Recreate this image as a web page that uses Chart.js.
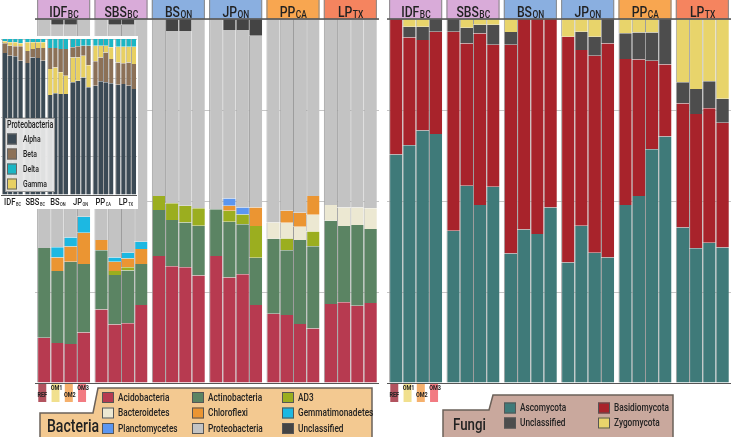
<!DOCTYPE html>
<html>
<head>
<meta charset="utf-8">
<script src="https://cdn.jsdelivr.net/npm/chart.js@4"></script>
<style>
  body { margin: 0; width: 733px; height: 437px; position: relative; overflow: hidden; background: #fff; }
  .box { position: absolute; }
</style>
</head>
<body>
<div class="box" style="left:0;top:0;width:383px;height:437px"><canvas id="bact"></canvas></div>
<div class="box" style="left:383px;top:0;width:350px;height:437px"><canvas id="fungi"></canvas></div>
<div class="box" style="left:0;top:36px;width:138px;height:173px;background:#fff"><canvas id="proteo"></canvas></div>
<script>
const sites = ['IDF', 'SBS', 'BS', 'JP', 'PP', 'LP'];
const siteSubs = ['BC', 'BC', 'ON', 'ON', 'CA', 'TX'];
const treatments = ['REF', 'OM1', 'OM2', 'OM3'];

// bacteria, % of reads, 4 bars per site in order REF, OM1, OM2, OM3
const acidobacteria = [12.4,11.0,10.7,13.9, 20.2,16.1,16.4,21.4, 34.9,32.1,31.8,29.5, 34.9,29.0,29.9,21.4, 19.0,18.7,16.2,15.0, 21.7,22.2,21.2,22.0];
const actinobacteria = [24.7,19.8,22.6,18.8, 16.3,13.6,14.5,11.3, 12.6,12.7,12.3,13.7, 12.8,15.3,13.7,13.0, 20.6,17.8,23.1,22.6, 22.9,20.9,22.2,20.3];
const ad3 = [0,0,0,0, 0,1.1,0.9,0, 3.9,4.6,4.6,4.8, 0,3.0,2.7,8.7, 0,3.2,0,4.0, 0,0,0,0];
const bacteroidetes = [0,0,0,0, 0,0,0,0, 0,0,0,0, 0,0,0,0, 4.5,4.3,3.6,4.6, 4.3,5.1,4.8,5.7];
const chloroflexi = [0,3.7,4.2,8.6, 2.8,2.5,2.4,4.1, 0,0,0,0, 0,1.4,0,5.1, 0,3.3,3.9,5.2, 0,0,0,0];
const gemmatimonadetes = [0,2.8,2.5,4.4, 0,1.2,1.6,2.0, 0,0,0,0, 0,0,0,0, 0,0,0,0, 0,0,0,0];
const planctomycetes = [0,0,0,0, 0,0,0,0, 0,0,0,0, 0,2.0,1.9,0, 0,0,0,0, 0,0,0,0];
const proteobacteria = [62.9,61.1,58.4,54.3, 60.7,63.9,62.6,61.2, 48.6,47.3,48.0,52.0, 52.3,46.3,48.8,47.2, 55.9,52.7,53.2,48.6, 51.1,51.8,51.8,52.0];
const bactUnclassified = [0,1.6,1.6,0, 0,1.6,1.6,0, 0,3.3,3.3,0, 0,3.0,3.0,4.6, 0,0,0,0, 0,0,0,0];

// fungi
const ascomycota = [62.8,65.3,69.4,68.4, 41.8,54.2,48.9,53.9, 35.6,42.2,40.9,48.2, 33.1,43.2,35.8,34.5, 48.9,51.4,64.2,67.7, 42.7,37.0,38.5,37.2];
const basidiomycota = [37.2,29.6,24.8,28.1, 54.7,39.1,47.1,39.0, 57.3,57.8,59.1,51.8, 62.0,48.3,54.1,58.8, 40.1,37.5,24.3,19.8, 34.1,36.9,37.0,34.3];
const fungiUnclassified = [0,3.0,3.7,3.5, 3.5,4.3,2.4,5.5, 3.5,0,0,0, 0,5.0,5.2,6.7, 7.1,7.4,7.8,12.5, 5.8,6.9,7.4,6.6];
const zygomycota = [0,2.1,2.1,0, 0,2.4,1.6,1.6, 3.6,0,0,0, 4.9,3.5,4.9,0, 3.9,3.7,3.7,0, 17.4,19.2,17.1,21.9];

// proteobacteria classes, % of proteobacteria
const alpha = [91.0,89.3,88.9,86.1, 84.6,88.2,87.8,86.1, 64.1,65.2,64.7,64.7, 72.2,73.3,75.4,69.0, 70.1,72.9,72.2,71.6, 70.7,71.2,70.1,67.9];
const beta = [6.2,6.4,6.4,9.2, 7.7,5.4,6.4,8.1, 13.4,12.4,14.9,17.1, 6.5,7.1,6.4,12.6, 15.6,15.3,19.2,15.6, 14.3,13.2,14.9,16.1];
const gamma = [1.3,2.2,2.6,1.9, 5.6,4.3,3.7,3.7, 16.7,16.6,14.0,11.8, 16.0,14.9,13.9,14.1, 10.0,7.5,4.3,7.5, 10.1,10.7,10.1,11.1];
const delta = [1.5,2.1,2.1,2.8, 2.1,2.1,2.1,2.1, 5.8,5.8,6.4,6.4, 5.3,4.7,4.3,4.3, 4.3,4.3,4.3,5.3, 4.9,4.9,4.9,4.9];
// sites where gamma sits below beta in the stack
const gammaUnderBeta = ['BS', 'JP'];

const FONT = 'Roboto, "Liberation Sans", sans-serif';
const NARROW = 0.72;   // squeeze Roboto toward a condensed face
const siteColors = ['#d9abd9', '#d9abd9', '#8aafe0', '#8aafe0', '#f8a650', '#f5845f'];
const tabColors = ['#b2535f', '#f1e08e', '#f5b06c', '#f27b82'];
const CAT_PCT = 0.925;

function buildSets(series) {
  const sets = [];
  treatments.forEach((t, ti) => {
    series.forEach(s => {
      sets.push({
        label: s.name,
        stack: t,
        backgroundColor: s.color,
        borderColor: '#9d9d9d',
        borderWidth: { left: 1, top: 0, right: 0, bottom: 0 },
        borderSkipped: false,
        data: sites.map((_, i) => s.values[i * 4 + ti])
      });
    });
  });
  return sets;
}

function narrowText(ctx, str, x, y, size, opts = {}) {
  const sx = opts.sx || NARROW;
  ctx.save();
  ctx.font = (opts.weight || '500') + ' ' + size + 'px ' + FONT;
  ctx.textAlign = 'left';
  ctx.textBaseline = opts.baseline || 'alphabetic';
  const w = ctx.measureText(str).width * sx;
  ctx.translate(opts.align === 'center' ? x - w / 2 : x, y);
  ctx.scale(sx, 1);
  ctx.fillText(str, 0, 0);
  ctx.restore();
  return w;
}

function textWidth(ctx, str, size, sx) {
  ctx.save();
  ctx.font = '500 ' + size + 'px ' + FONT;
  const w = ctx.measureText(str).width * (sx || NARROW);
  ctx.restore();
  return w;
}

function drawSub(ctx, main, sub, cx, y, big, small, sx) {
  const w1 = textWidth(ctx, main, big, sx), w2 = textWidth(ctx, sub, small, sx);
  const x = cx - (w1 + w2) / 2;
  narrowText(ctx, main, x, y, big, { sx });
  narrowText(ctx, sub, x + w1 + 0.5, y + small * 0.12, small, { sx });
}

const headerPlugin = {
  id: 'headers',
  afterDraw(chart) {
    const ctx = chart.ctx, x = chart.scales.x, a = chart.chartArea;
    const gw = x.width / sites.length * CAT_PCT;
    ctx.save();
    sites.forEach((s, i) => {
      const cx = x.getPixelForValue(i);
      ctx.fillStyle = siteColors[i];
      ctx.fillRect(cx - gw / 2, 0, gw, a.top);
      ctx.strokeStyle = '#8a8a8a';
      ctx.lineWidth = 1;
      ctx.strokeRect(cx - gw / 2 + 0.5, -1, gw - 1, a.top + 1);
      ctx.fillStyle = '#222';
      drawSub(ctx, s, siteSubs[i], cx, a.top - 2, 14.5, 10, 0.84);
    });
    ctx.strokeStyle = '#555';
    ctx.lineWidth = 1.5;
    ctx.beginPath();
    ctx.moveTo(a.left, a.top);
    ctx.lineTo(a.right, a.top);
    ctx.stroke();
    // treatment tabs under the first site
    const c0 = x.getPixelForValue(0), bw = gw / 4;
    treatments.forEach((t, ti) => {
      const bx = c0 - gw / 2 + (ti + 0.5) * bw - 1.5;
      ctx.fillStyle = tabColors[ti];
      ctx.fillRect(bx - 4, a.bottom + 1, 8, 18);
      ctx.fillStyle = '#222';
      narrowText(ctx, t, bx + (ti === 0 ? 0 : 1), a.bottom + (ti % 2 ? 5 : 12), 6.5,
        { weight: 'bold', align: 'center', baseline: 'middle', sx: 0.85 });
    });
    ctx.restore();
  }
};

function legendPlugin(cfg) {
  return {
    id: 'customLegend',
    afterDraw(chart) {
      const ctx = chart.ctx;
      ctx.save();
      ctx.beginPath();
      cfg.shape.forEach((p, i) => i ? ctx.lineTo(p[0], p[1]) : ctx.moveTo(p[0], p[1]));
      ctx.closePath();
      ctx.fillStyle = cfg.fill;
      ctx.fill();
      ctx.strokeStyle = '#6b6159';
      ctx.lineWidth = 1.5;
      ctx.stroke();
      ctx.fillStyle = '#222';
      narrowText(ctx, cfg.title, cfg.titleX, cfg.titleY, cfg.titleSize, { sx: 0.78 });
      cfg.items.forEach((it, i) => {
        const col = Math.floor(i / cfg.rows), row = i % cfg.rows;
        const x = cfg.x0 + col * cfg.colW, y = cfg.y0 + row * cfg.rowH;
        ctx.fillStyle = it.color;
        ctx.fillRect(x, y - 5.5, 12, 11);
        ctx.strokeStyle = '#555';
        ctx.lineWidth = 1;
        ctx.strokeRect(x + 0.5, y - 5, 11, 10);
        ctx.fillStyle = '#222';
        narrowText(ctx, it.name, x + 16, y + 0.5, 11.5, { baseline: 'middle' });
      });
      ctx.restore();
    }
  };
}

function mainOptions(padding) {
  return {
    responsive: true,
    maintainAspectRatio: false,
    animation: false,
    layout: { padding },
    plugins: { legend: { display: false }, tooltip: { enabled: false } },
    datasets: { bar: { categoryPercentage: CAT_PCT, barPercentage: 1 } },
    scales: {
      x: { stacked: true, display: false },
      y: {
        stacked: true, min: 0, max: 100,
        ticks: { display: false, stepSize: 25 },
        border: { display: false },
        grid: { drawTicks: false, color: c => c.tick.value === 0 ? '#555' : '#c6c6c6' }
      }
    }
  };
}

const bactSeries = [
  { name: 'Acidobacteria', values: acidobacteria, color: '#b73a50' },
  { name: 'Actinobacteria', values: actinobacteria, color: '#5b8463' },
  { name: 'AD3', values: ad3, color: '#9bae1f' },
  { name: 'Bacteroidetes', values: bacteroidetes, color: '#ece8d2' },
  { name: 'Chloroflexi', values: chloroflexi, color: '#eb9532' },
  { name: 'Gemmatimonadetes', values: gemmatimonadetes, color: '#1cb8e2' },
  { name: 'Planctomycetes', values: planctomycetes, color: '#5b96f0' },
  { name: 'Proteobacteria', values: proteobacteria, color: '#c3c3c3' },
  { name: 'Unclassified', values: bactUnclassified, color: '#444444' }
];
const bactLegendOrder = ['Acidobacteria', 'Bacteroidetes', 'Planctomycetes', 'Actinobacteria', 'Chloroflexi', 'Proteobacteria', 'AD3', 'Gemmatimonadetes', 'Unclassified'];

new Chart(document.getElementById('bact'), {
  type: 'bar',
  data: { labels: sites, datasets: buildSets(bactSeries) },
  options: mainOptions({ left: 35, right: 4, top: 19, bottom: 54 }),
  plugins: [headerPlugin, legendPlugin({
    shape: [[98, 388], [372, 388], [372, 440], [40, 440], [40, 413], [93, 413]],
    fill: '#f3c991',
    title: 'Bacteria', titleSize: 18, titleX: 47, titleY: 432,
    x0: 102, y0: 397.5, colW: 90, rows: 3, rowH: 15.5,
    items: bactLegendOrder.map(n => bactSeries.find(s => s.name === n))
  })]
});

const fungiSeries = [
  { name: 'Ascomycota', values: ascomycota, color: '#3f7a79' },
  { name: 'Basidiomycota', values: basidiomycota, color: '#a8232b' },
  { name: 'Unclassified', values: fungiUnclassified, color: '#4d4d4d' },
  { name: 'Zygomycota', values: zygomycota, color: '#e8d46b' }
];
const fungiLegendOrder = ['Ascomycota', 'Unclassified', 'Basidiomycota', 'Zygomycota'];

new Chart(document.getElementById('fungi'), {
  type: 'bar',
  data: { labels: sites, datasets: buildSets(fungiSeries) },
  options: mainOptions({ left: 4, right: 2, top: 19, bottom: 54 }),
  plugins: [headerPlugin, legendPlugin({
    shape: [[110, 395], [290, 395], [290, 440], [60, 440], [60, 410], [106, 410]],
    fill: '#c9a89d',
    title: 'Fungi', titleSize: 17, titleX: 70, titleY: 430,
    x0: 121, y0: 408, colW: 94, rows: 2, rowH: 15,
    items: fungiLegendOrder.map(n => fungiSeries.find(s => s.name === n))
  })]
});

// inset: proteobacteria classes
const proteoSeries = [
  { name: 'Alpha', values: alpha, color: '#3b4a55' },
  { name: 'Gamma', values: gamma.map((v, i) => gammaUnderBeta.includes(sites[Math.floor(i / 4)]) ? v : 0), color: '#e8d062' },
  { name: 'Beta', values: beta, color: '#8c7157' },
  { name: 'Gamma', values: gamma.map((v, i) => gammaUnderBeta.includes(sites[Math.floor(i / 4)]) ? 0 : v), color: '#e8d062' },
  { name: 'Delta', values: delta, color: '#1ab6c4' }
];
const proteoLegend = ['Alpha', 'Beta', 'Delta', 'Gamma'].map(n => proteoSeries.find(s => s.name === n));

const insetPlugin = {
  id: 'inset',
  afterDraw(chart) {
    const ctx = chart.ctx, x = chart.scales.x, a = chart.chartArea;
    ctx.save();
    ctx.fillStyle = '#222';
    sites.forEach((s, i) => drawSub(ctx, s, siteSubs[i], x.getPixelForValue(i), a.bottom + 10, 9.5, 5, 0.8));
    // legend box
    ctx.fillStyle = 'rgba(232,232,232,0.95)';
    ctx.fillRect(5, 82, 50, 74);
    ctx.strokeStyle = '#999';
    ctx.lineWidth = 1;
    ctx.strokeRect(5.5, 82.5, 49, 73);
    ctx.fillStyle = '#222';
    narrowText(ctx, 'Proteobacteria', 7, 92, 10, { sx: 0.7 });
    proteoLegend.forEach((it, i) => {
      const y = 103 + i * 15;
      ctx.fillStyle = it.color;
      ctx.fillRect(7, y - 5.5, 10, 11);
      ctx.strokeStyle = '#666';
      ctx.strokeRect(7.5, y - 5, 9, 10);
      ctx.fillStyle = '#222';
      narrowText(ctx, it.name, 23, y + 1, 9.5, { baseline: 'middle', sx: 0.72 });
    });
    ctx.restore();
  }
};

new Chart(document.getElementById('proteo'), {
  type: 'bar',
  data: { labels: sites, datasets: buildSets(proteoSeries) },
  options: mainOptions({ left: 1, right: 1, top: 3, bottom: 14 }),
  plugins: [insetPlugin]
});
</script>
</body>
</html>
